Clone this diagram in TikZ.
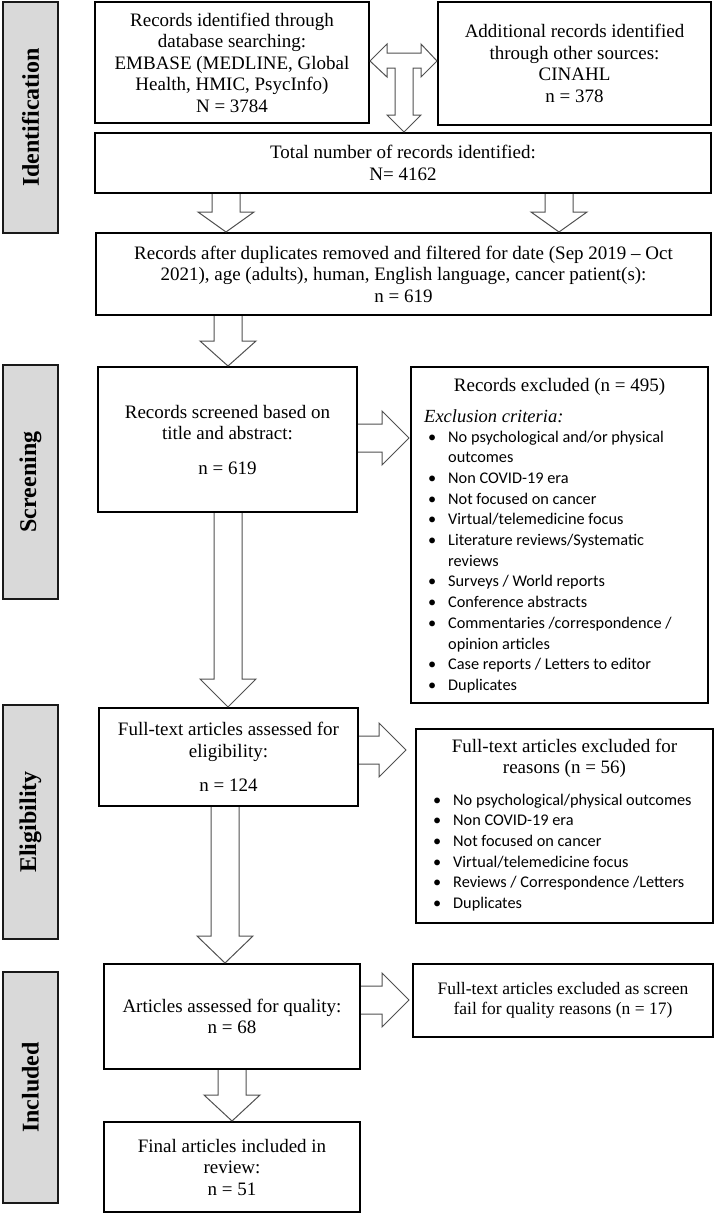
\documentclass[tikz,border=0pt]{standalone}
\usepackage{fontspec}
\setmainfont{Liberation Serif}
\newfontfamily\listfont{Carlito}
\usetikzlibrary{calc,positioning}
\definecolor{stagegray}{RGB}{217,217,217}
\definecolor{arrowgray}{RGB}{80,80,80}
\tikzset{
  box/.style={draw=black, line width=2pt, inner sep=0pt, align=center,
              font=\fontsize{19}{21.5}\selectfont},
  smallbox/.style={box, font=\fontsize{17.5}{20}\selectfont},
  stage/.style={draw=black!90, line width=2.4pt, fill=stagegray,
                inner sep=0pt, minimum width=55pt,
                font=\fontsize{24}{28}\selectfont\bfseries},
  blockarrow/.style={draw=arrowgray, line width=1pt},
  head/.style={inner sep=0pt, align=center,
               font=\fontsize{19}{21}\selectfont},
  crit/.style={inner sep=0pt, anchor=west,
               font=\fontsize{18.5}{21}\selectfont\itshape},
  reasons/.style={inner sep=0pt, anchor=base west,
                  font=\listfont\fontsize{16.3}{20.7}\selectfont},
}
% hollow block arrows: from node, to node, centre, head length / gap
\newcommand{\blockdown}[4]{%
  \coordinate (xlev) at (#3,0);
  \coordinate (from) at (xlev |- #1.south);
  \coordinate (tip) at (xlev |- #2.north);
  \draw[blockarrow] ([xshift=-14pt]from) -- ([xshift=-14pt,yshift=#4]tip)
    -- ([xshift=-28pt,yshift=#4]tip) -- (tip) -- ([xshift=28pt,yshift=#4]tip)
    -- ([xshift=14pt,yshift=#4]tip) -- ([xshift=14pt]from);
}
\newcommand{\blockright}[4]{%
  \coordinate (ylev) at (0,#3);
  \coordinate (from) at (#1.east |- ylev);
  \coordinate (tipzero) at (#2.west |- ylev);
  \coordinate (tip) at ([xshift=-#4]tipzero);
  \draw[blockarrow] ([yshift=14pt]from) -- ([xshift=-27pt,yshift=14pt]tip)
    -- ([xshift=-27pt,yshift=27pt]tip) -- (tip) -- ([xshift=-27pt,yshift=-27pt]tip)
    -- ([xshift=-27pt,yshift=-14pt]tip) -- ([yshift=-14pt]from);
}
\newcommand{\bul}{\makebox[20pt][l]{\textbullet}}

\begin{document}
\begin{tikzpicture}[x=1pt,y=-1pt]
  \path[use as bounding box] (0,0) rectangle (714,1213);

  % Stage bars.
  \node[stage, minimum height=231pt] (idbar) at (30.5,117.5)
    {\rotatebox{90}{Identification}};
  \node[stage, minimum height=234pt] (scbar) at (30.5,482)
    {\rotatebox{90}{Screening}};
  \node[stage, minimum height=234pt] (elbar) at (30.5,822)
    {\rotatebox{90}{Eligibility}};
  \node[stage, minimum height=231pt] (inbar) at (30.5,1087.5)
    {\rotatebox{90}{Included}};

  % Identification.
  \node[box, minimum width=274pt, minimum height=121pt] (dbsearch) at (232,62.5)
    {Records identified through\\database searching:\\EMBASE (MEDLINE, Global\\
     Health, HMIC, PsycInfo)\\N = 3784};
  \node[box, minimum width=273pt, minimum height=123pt] (othersrc) at (574.5,63.5)
    {Additional records identified\\through other sources:\\CINAHL\\n = 378};
  \node[box, minimum width=616pt, minimum height=60pt] (total) at (403,163)
    {Total number of records identified:\\N= 4162};
  \node[box, minimum width=615pt, minimum height=82pt] (dedup) at (403.5,274)
    {Records after duplicates removed and filtered for date (Sep 2019 -- Oct\\
     2021), age (adults), human, English language, cancer patient(s):\\n = 619};

  \coordinate (tlev) at (0,61);
  \draw[blockarrow] (dbsearch.east |- tlev) -- ++(17,-17) -- ++(0,9) -- ++(34,0)
    -- ++(0,-9) -- ++(16,17) -- ++(-16,16) -- ++(0,-9) -- ++(-8,0) -- ++(0,47)
    -- ++(8,0) -- ++(-17,17) -- ++(-17,-17) -- ++(8,0) -- ++(0,-47) -- ++(-8,0)
    -- ++(0,9) -- cycle;
  \blockdown{total}{dedup}{226}{20pt}
  \blockdown{total}{dedup}{559}{20pt}

  % Screening.
  \node[box, minimum width=259pt, minimum height=145pt] (screened) at (227.5,439.5)
    {Records screened based on\\title and abstract:\\[13pt]n = 619};
  \node[box, minimum width=297pt, minimum height=336pt] (exclone) at (559.5,535) {};
  \node[head] (exclonehead) at (559.5,387) {Records excluded (n = 495)};
  \node[crit] (critlab) at (424,416) {Exclusion criteria:};
  \node[reasons] (exclonelist) at (428,442)
    {\begin{tabular}[t]{@{}l@{}l@{}}
       \bul & No psychological and/or physical\\
            & outcomes\\
       \bul & Non COVID-19 era\\
       \bul & Not focused on cancer\\
       \bul & Virtual/telemedicine focus\\
       \bul & Literature reviews/Systematic\\
            & reviews\\
       \bul & Surveys / World reports\\
       \bul & Conference abstracts\\
       \bul & Commentaries /correspondence /\\
            & opinion articles\\
       \bul & Case reports / Letters to editor\\
       \bul & Duplicates
     \end{tabular}};
  \blockdown{dedup}{screened}{228}{25pt}
  \blockright{screened}{exclone}{438}{1pt}

  % Eligibility.
  \node[box, minimum width=259pt, minimum height=98pt] (fulltext) at (228.5,757)
    {Full-text articles assessed for\\eligibility:\\[13pt]n = 124};
  \node[box, minimum width=297pt, minimum height=194pt] (excltwo) at (564.5,826) {};
  \node[head] (excltwohead) at (564.5,758.5)
    {Full-text articles excluded for\\reasons (n = 56)};
  \node[reasons] (excltwolist) at (433,805)
    {\begin{tabular}[t]{@{}l@{}l@{}}
       \bul & No psychological/physical outcomes\\
       \bul & Non COVID-19 era\\
       \bul & Not focused on cancer\\
       \bul & Virtual/telemedicine focus\\
       \bul & Reviews / Correspondence /Letters\\
       \bul & Duplicates
     \end{tabular}};
  \blockdown{screened}{fulltext}{228}{28pt}
  \blockright{fulltext}{excltwo}{750}{9pt}

  % Included.
  \node[box, minimum width=256pt, minimum height=105pt] (quality) at (232,1016.5)
    {Articles assessed for quality:\\n = 68};
  \node[smallbox, minimum width=300pt, minimum height=73pt] (exclthree) at (563,1000.5)
    {Full-text articles excluded as screen\\fail for quality reasons (n = 17)};
  \node[box, minimum width=256pt, minimum height=90pt] (final) at (232,1167)
    {Final articles included in\\review:\\n = 51};
  \blockdown{fulltext}{quality}{225}{27pt}
  \blockright{quality}{exclthree}{1000}{3pt}
  \blockdown{quality}{final}{232}{26pt}
\end{tikzpicture}
\end{document}
